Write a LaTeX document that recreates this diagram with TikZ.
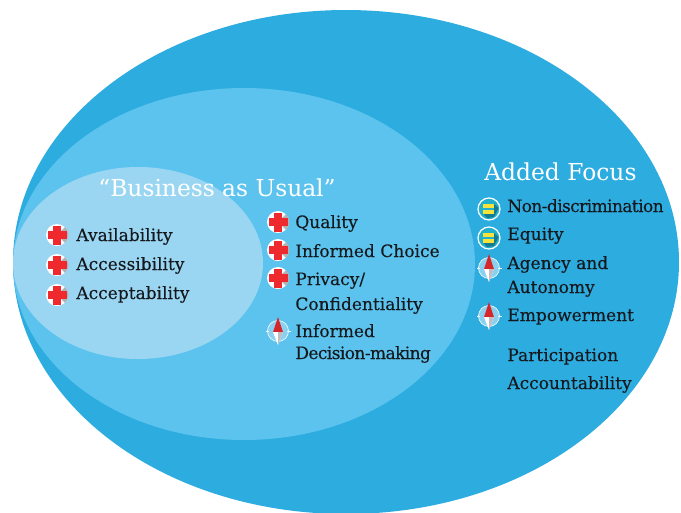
\documentclass[tikz,border=0pt]{standalone}
\usepackage{fontspec}
\setmainfont{DejaVu Serif}[FakeBold=0.25]
\newfontfamily\headfont{DejaVu Serif}
\newfontfamily\tightfont{DejaVu Serif}[FakeBold=0.25, LetterSpace=-3.5]
\definecolor{outerblue}{HTML}{2DACE0}
\definecolor{midblue}{HTML}{5CC3EE}
\definecolor{innerblue}{HTML}{9AD6F2}
\definecolor{inktext}{HTML}{15191E}
\definecolor{crossred}{HTML}{EE2A2E}
\definecolor{barteal}{HTML}{1FB0CC}
\definecolor{baryellow}{HTML}{F5E23A}
\begin{document}
\begin{tikzpicture}[x=0.02cm, y=-0.02cm]
\tikzset{itemtext/.style={anchor=base west, inner sep=0pt, text=inktext, font=\fontsize{9.7}{11}\selectfont},
tighttext/.style={itemtext, font=\tightfont\fontsize{9.7}{11}\selectfont},
headtext/.style={anchor=base west, inner sep=0pt, text=white, font=\headfont\fontsize{13.3}{15}\selectfont},
crossicon/.pic={
\fill[white] (0,0) circle (11);
\fill[black!30] (0,0) -- (8,-8) arc (-45:45:11.3) -- cycle;
\fill[crossred] (-4,-9.5) rectangle (4,9.5);
\fill[crossred] (-9.5,-4) rectangle (9.5,4);
},
equalicon/.pic={
\fill[barteal] (0,0) circle (10);
\fill[barteal!70!black] (5,-5) -- (9.5,-1) -- (5,8) -- (-2,9) -- (-6,4.5) -- (5,4.5) -- cycle;
\draw[white, line width=0.7pt] (0,0) circle (11);
\fill[baryellow] (-6,-5) rectangle (5,-1.5);
\fill[baryellow] (-6,1) rectangle (5,4.5);
},
compassicon/.pic={
\fill[innerblue!75!midblue] (0,0) circle (10.5);
\draw[white!85!innerblue, line width=0.4pt] (0,0) circle (10.5);
\draw[white!85!innerblue, line width=0.4pt] (-12.5,0) -- (-9,0) (9,0) -- (12.5,0);
\fill[crossred!90!black] (0,-14) -- (5,1) -- (-5,1) -- cycle;
\fill[white] (0,14) -- (5,1) -- (-5,1) -- cycle;
\fill[black!25] (0,14) -- (5,1) -- (0,1) -- cycle;
}}
\clip (0,0) rectangle (681,512);
\fill[outerblue] (346,262) ellipse [x radius=333, y radius=252];
\fill[midblue] (244,264) ellipse [x radius=231, y radius=176];
\fill[innerblue] (138,263) ellipse [x radius=125, y radius=96];
\node[headtext] (BAU) at (98,196) {“Business as Usual”};
\node[headtext] (AF) at (484,180) {Added Focus};
\pic at (57,235) {crossicon};
\pic at (57,265) {crossicon};
\pic at (57,295) {crossicon};
\node[itemtext] (T1) at (76,241) {Availability};
\node[itemtext] (T2) at (76,270) {Accessibility};
\node[itemtext] (T3) at (76,299) {Acceptability};
\pic at (278,222) {crossicon};
\pic at (278,250) {crossicon};
\pic at (278,278) {crossicon};
\pic at (278,331) {compassicon};
\node[itemtext] (T4) at (295,228) {Quality};
\node[itemtext] (T5) at (295,257) {Informed Choice};
\node[itemtext] (T6) at (295,285) {Privacy/};
\node[itemtext] (T7) at (295,310) {Confidentiality};
\node[itemtext] (T8) at (295,337) {Informed};
\node[tighttext] (T9) at (295,359) {Decision-making};
\pic at (489,209) {equalicon};
\pic at (489,238) {equalicon};
\pic at (489,268) {compassicon};
\pic at (489,316) {compassicon};
\node[tighttext] (T10) at (507,212) {Non-discrimination};
\node[itemtext] (T11) at (507,240) {Equity};
\node[itemtext] (T12) at (507,269) {Agency and};
\node[itemtext] (T13) at (507,293) {Autonomy};
\node[itemtext] (T14) at (507,321) {Empowerment};
\node[itemtext] (T15) at (507,361) {Participation};
\node[itemtext] (T16) at (507,389) {Accountability};
\end{tikzpicture}
\end{document}
